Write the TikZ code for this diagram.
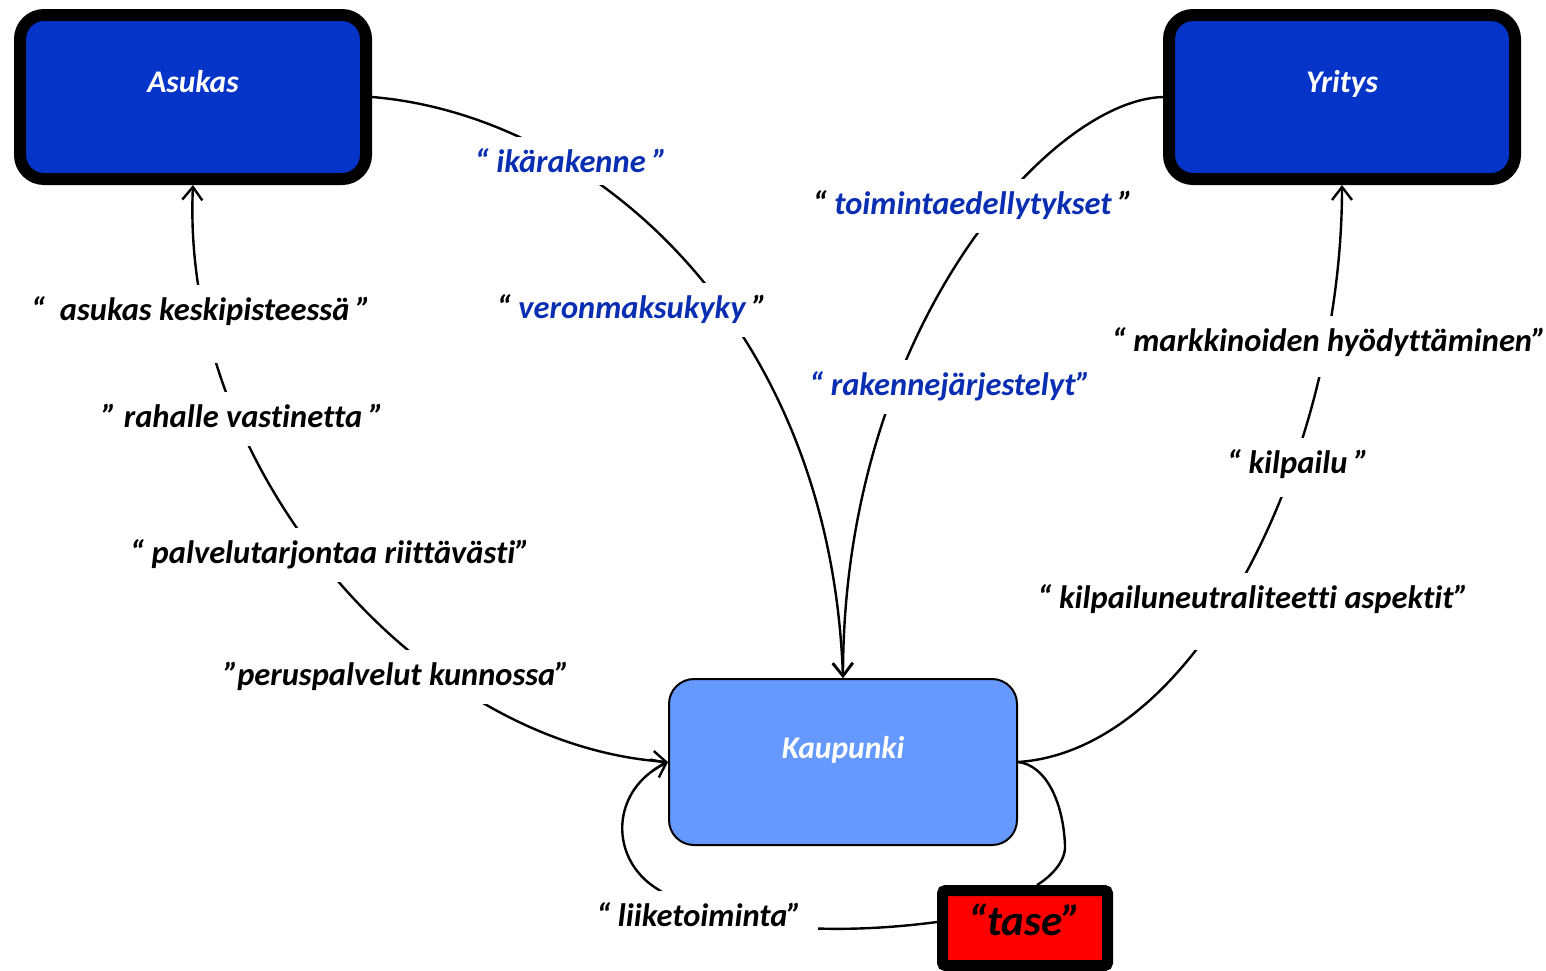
\documentclass[tikz,border=0pt]{standalone}
\usepackage{fontspec}
\setmainfont{Carlito}[Ligatures={NoCommon}]
\usetikzlibrary{arrows.meta}
\definecolor{boxblue}{RGB}{5,52,200}
\definecolor{txtblue}{RGB}{10,46,178}
\definecolor{lightblue}{RGB}{102,153,255}
\definecolor{tasered}{RGB}{255,0,0}
\begin{document}
\begin{tikzpicture}[x=1pt,y=-1pt,
  bigbox/.style={draw=black,line width=12pt,fill=boxblue,rounded corners=24pt,minimum width=346pt,minimum height=164pt,inner sep=0pt},
  boxtext/.style={text=white,font=\fontsize{31.5}{38}\selectfont\bfseries\itshape,text height=22pt,text depth=6pt,inner sep=0pt},
  lbl/.style={fill=white,inner xsep=10pt,inner ysep=5pt,text height=30pt,text depth=14pt,anchor=base,font=\fontsize{32.5}{39}\selectfont\bfseries\itshape},
  conn/.style={line width=2.4pt},
  arr/.style={-{Straight Barb[length=13pt,width=20pt]}},
  arrboth/.style={{Straight Barb[length=13pt,width=20pt]}-{Straight Barb[length=13pt,width=20pt]}}
]
\fill[white] (0,0) rectangle (1546,970);
\useasboundingbox (0,0) rectangle (1546,970);

% boxes
\node[bigbox,label={[boxtext,yshift=13pt]center:Asukas}] (asukas) at (193,97) {};
\node[bigbox,label={[boxtext,yshift=13pt]center:Yritys}] (yritys) at (1342,97) {};
\node[draw=black,line width=2pt,fill=lightblue,rounded corners=25pt,minimum width=348pt,minimum height=166pt,inner sep=0pt,label={[boxtext,yshift=12pt]center:Kaupunki}] (kaup) at (843,762) {};
\node[draw=black,line width=11pt,fill=tasered,rounded corners=3pt,minimum width=165pt,minimum height=75pt,inner sep=0pt,font=\fontsize{43}{50}\selectfont\bfseries\itshape,text height=30pt,text depth=15pt] (tase) at (1025,928) {“tase”};

% connectors
\draw[conn,arr] (asukas.east) .. controls (590,115) and (830,320) .. (kaup.north);
\draw[conn,arr] (yritys.west) .. controls (1050,100) and (843,330) .. (kaup.north);
\draw[conn,arrboth] (kaup.west) .. controls (420,745) and (180,470) .. (asukas.south);
\draw[conn,arr] (kaup.east) .. controls (1200,750) and (1342,450) .. (yritys.south);
\draw[conn] (kaup.east) .. controls (1045,765) and (1063,800) .. (1065,845) .. controls (1066,862) and (1050,877) .. ([xshift=12pt]tase.north);
\draw[conn,arr] ([yshift=6pt]tase.west) .. controls (800,940) and (700,920) .. (659,890) .. controls (608,860) and (610,790) .. (kaup.west);

% labels
\node[lbl,text=txtblue,text depth=8pt] (l1) at (571,172) {“ ikärakenne ”};
\node[lbl] (l2) at (632,318) {“ \textcolor{txtblue}{veronmaksukyky} ”};
\node[lbl] (l3) at (973,214) {“ \textcolor{txtblue}{toimintaedellytykset} ”};
\node[lbl,text=txtblue] (l4) at (950,395) {“ rakennejärjestelyt”};
\node[lbl,text depth=38pt] (l5) at (201,320) {“\ \ asukas keskipisteessä ”};
\node[lbl] (l6) at (243,427) {” rahalle vastinetta ”};
\node[lbl] (l7) at (330,563) {“ palvelutarjontaa riittävästi”};
\node[lbl] (l8) at (397,685) {”peruspalvelut kunnossa”};
\node[lbl,text depth=21pt] (l9) at (1329,351) {“ markkinoiden hyödyttäminen”};
\node[lbl,text depth=19pt] (l10) at (1298,473) {“ kilpailu ”};
\node[lbl,text depth=37pt] (l11) at (1253,608) {“ kilpailuneutraliteetti aspektit”};
\node[lbl,inner xsep=16pt] (l12) at (699,926) {“ liiketoiminta”};
\end{tikzpicture}
\end{document}
